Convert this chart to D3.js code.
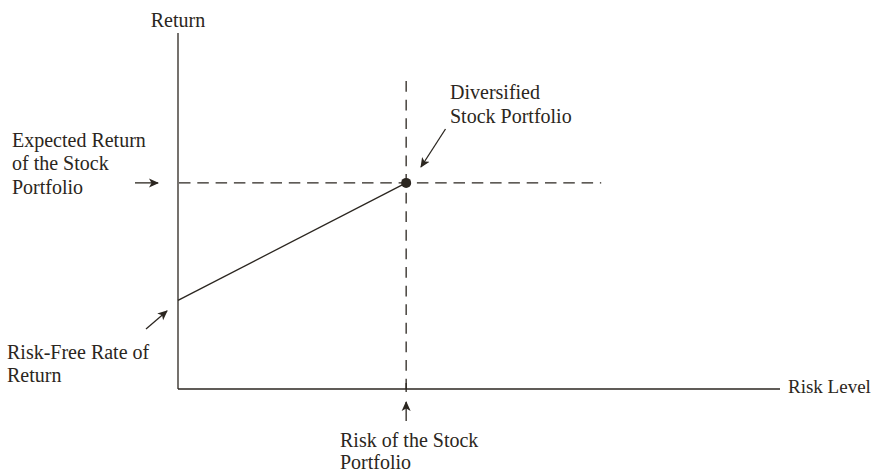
<!DOCTYPE html>
<html><head><meta charset="utf-8">
<script src="https://cdn.jsdelivr.net/npm/d3@7/dist/d3.min.js"></script>
<style>body{margin:0;background:#fff}svg{display:block}</style>
</head><body><svg id="c" width="872" height="473"></svg>
<script>
// ---- data (abstract units: 0..100 on each axis) ----
const riskFreeRate = 24.9;          // return at zero risk
const stockRisk = 37.9;             // risk of diversified stock portfolio
const stockReturn = 57.9;           // expected return of the stock portfolio
const hGuideEnd = 70.3;             // where horizontal dashed guide ends (risk units)
const vGuideTop = 86.5;             // where vertical dashed guide starts (return units)
const axisTitles = ["Return", "Risk Level"];
const annotations = [
  {lines: ["Expected Return", "of the Stock", "Portfolio"]},
  {lines: ["Risk-Free Rate of", "Return"]},
  {lines: ["Diversified", "Stock Portfolio"]},
  {lines: ["Risk of the Stock", "Portfolio"]}
];

const ink = "#2b2620";
const svg = d3.select("#c");
const x = d3.scaleLinear().domain([0, 100]).range([178, 780]);
const y = d3.scaleLinear().domain([0, 100]).range([389, 33]);

svg.append("defs").append("marker")
  .attr("id", "ah").attr("viewBox", "0 0 10 10").attr("refX", 9).attr("refY", 5)
  .attr("markerWidth", 10).attr("markerHeight", 10).attr("markerUnits", "userSpaceOnUse")
  .attr("orient", "auto")
  .append("path").attr("d", "M0,0.5 L10,5 L0,9.5 L2.5,5 Z").attr("fill", ink);

svg.append("line").attr("x1", x(0)).attr("x2", x(0)).attr("y1", y(0)).attr("y2", y(100))
  .attr("stroke", ink).attr("stroke-width", 1.3);
svg.append("line").attr("x1", x(0)).attr("x2", x(100)).attr("y1", y(0)).attr("y2", y(0))
  .attr("stroke", ink).attr("stroke-width", 1.3);

svg.append("line").attr("x1", x(0) + 1).attr("x2", x(hGuideEnd))
  .attr("y1", y(stockReturn)).attr("y2", y(stockReturn))
  .attr("stroke", ink).attr("stroke-width", 1.3).attr("stroke-dasharray", "11.5,6.8");
svg.append("line").attr("x1", x(stockRisk)).attr("x2", x(stockRisk))
  .attr("y1", y(vGuideTop)).attr("y2", y(0))
  .attr("stroke", ink).attr("stroke-width", 1.3).attr("stroke-dasharray", "10.8,7.8");
svg.append("line").attr("x1", x(stockRisk)).attr("x2", x(stockRisk))
  .attr("y1", y(0) - 6).attr("y2", y(0) + 3).attr("stroke", ink).attr("stroke-width", 1.3);

const line = d3.line().x(d => x(d[0])).y(d => y(d[1]));
svg.append("path").datum([[0, riskFreeRate], [stockRisk, stockReturn]])
  .attr("d", line).attr("fill", "none").attr("stroke", ink).attr("stroke-width", 1.3);

svg.append("circle").attr("cx", x(stockRisk)).attr("cy", y(stockReturn)).attr("r", 5).attr("fill", ink);

function arrow(x1, y1, x2, y2) {
  svg.append("line").attr("x1", x1).attr("y1", y1).attr("x2", x2).attr("y2", y2)
    .attr("stroke", ink).attr("stroke-width", 1.3).attr("marker-end", "url(#ah)");
}
arrow(135, y(stockReturn), 158, y(stockReturn));
arrow(146, 329, 167, 311);
arrow(445.5, 129, 421, 167);
arrow(x(stockRisk), 421, x(stockRisk), 402);

const font = "'Liberation Serif', 'Times New Roman', serif";
function label(lines, x0, y0, anchor, lh, fs) {
  const t = svg.append("text").attr("font-family", font).attr("font-size", fs || 20)
    .attr("fill", ink).attr("text-anchor", anchor || "start");
  lines.forEach((s, i) => t.append("tspan").attr("x", x0).attr("y", y0 + i * (lh || 23.5)).text(s));
}
label([axisTitles[0]], x(0), 27, "middle");
label([axisTitles[1]], 788, 393, "start", 23.5, 19);
label(annotations[0].lines, 12, 146.5);
label(annotations[1].lines, 7, 358.5);
label(annotations[2].lines, 450, 99);
label(annotations[3].lines, 340, 446.5, "start", 22.5);
</script></body></html>
